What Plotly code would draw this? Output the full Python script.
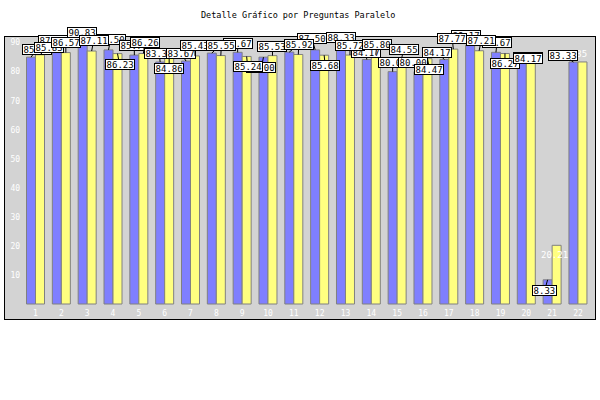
import plotly.graph_objects as go

# ---- data ----
categories = [str(i) for i in range(1, 23)]
blue_values = [85.00, 87.00, 90.83, 87.50, 85.71, 83.33, 83.67, 86.40, 86.67, 85.00, 86.75,
               87.50, 88.33, 84.17, 80.00, 80.00, 84.17, 89.17, 86.67, 83.00, 8.33, 83.33]
yellow_values = [85.83, 86.57, 87.11, 86.23, 86.26, 84.86, 85.43, 85.55, 85.24, 85.53, 85.92,
                 85.68, 85.72, 85.80, 84.55, 84.47, 87.77, 87.21, 86.27, 84.17, 20.21, 83.35]
y_tick_values = [10, 20, 30, 40, 50, 60, 70, 80, 90]

# ---- label placement (pixel offsets of the label centre from the bar top) ----
blue_dx = [6, -4, -1, 2, 0, -1, -5, 8, 0, -2, 10, -3, 0, -1, 0, -5, -7, -4, 1, 6, -3, -10.5]
blue_dy = [-8, -11, -7.5, -10, -10, -9, -8, -7.5, -9, 10, -8, -11, -9.5, -7, -9, -9, -7.5, -10, -9.5, -5, 10.5, -7]
yellow_dx = [8.5, 0, 2, 2, 2, 0, 0, 0.5, 1, 0, 0.5, 1, 0, 1, 2, 2, -1, 2, 0, -3, -2.5, -9]
yellow_dy = [-7.5, -10.5, -10.5, 10.5, -11, 11, -10.5, -10, 10.5, -9.5, -10, 10, -10, -10, -9, 10.5, -10.5, -10, 10.5, -1.5, 10, -8]
yellow_style = ["box"] * 20 + ["white", "white"]

BLUE = "#7f7fff"
YELLOW = "#ffff80"
EDGE = "#808080"
FONT = "DejaVu Sans Mono"

x_pos = list(range(1, len(categories) + 1))
bargap = 0.303
bar_off = (1 - bargap) / 4.0

fig = go.Figure()
fig.add_trace(go.Bar(x=x_pos, y=blue_values, marker=dict(color=BLUE, line=dict(color=EDGE, width=1)),
                     hoverinfo="skip", showlegend=False))
fig.add_trace(go.Bar(x=x_pos, y=yellow_values, marker=dict(color=YELLOW, line=dict(color=EDGE, width=1)),
                     hoverinfo="skip", showlegend=False))

def fmt(v):
    return f"{v:.2f}"

annotations = []
# white text labels first (drawn underneath the boxes)
for i, v in enumerate(yellow_values):
    if yellow_style[i] == "white":
        annotations.append(dict(x=x_pos[i] + bar_off, y=v, xref="x", yref="y", text=fmt(v),
                                showarrow=False, xshift=yellow_dx[i], yshift=-yellow_dy[i],
                                font=dict(family=FONT, size=9, color="white")))

def box_label(xv, v, dx, dy):
    txt = fmt(v)
    return dict(x=xv, y=v, xref="x", yref="y", text=txt, showarrow=True,
                ax=dx, ay=dy, axref="pixel", ayref="pixel",
                arrowhead=0, arrowwidth=1, arrowcolor="black", standoff=0, startstandoff=0,
                bgcolor="white", bordercolor="black", borderwidth=1, borderpad=0,
                width=5.45 * len(txt) + 1, height=9,
                font=dict(family=FONT, size=9, color="black"))

for i, v in enumerate(blue_values):
    annotations.append(box_label(x_pos[i] - bar_off, v, blue_dx[i], blue_dy[i]))
for i, v in enumerate(yellow_values):
    if yellow_style[i] == "box":
        annotations.append(box_label(x_pos[i] + bar_off, v, yellow_dx[i], yellow_dy[i]))

fig.update_layout(
    width=600, height=400,
    margin=dict(l=5, r=5, t=37, b=81, pad=0),
    paper_bgcolor="white", plot_bgcolor="#d3d3d3",
    barmode="group", bargap=bargap, bargroupgap=0,
    title=dict(text="Detalle Gráfico por Preguntas Paralelo", x=0.497, xanchor="center",
               xref="paper", y=1 - 15.5 / 400, yref="container", yanchor="middle",
               font=dict(family=FONT, size=8.5, color="black")),
    xaxis=dict(range=[-0.181, 22.66], tickvals=x_pos, ticktext=categories,
               ticklabelposition="inside", ticks="", tickfont=dict(family=FONT, size=8, color="white"),
               showgrid=False, zeroline=False, showline=True, linecolor="black", linewidth=1, mirror=True,
               fixedrange=True),
    yaxis=dict(range=[-5.165, 91.94], tickvals=y_tick_values, ticklabelposition="inside", ticks="",
               ticklabelstandoff=4,
               tickfont=dict(family=FONT, size=8, color="white"),
               showgrid=False, zeroline=False, showline=True, linecolor="black", linewidth=1, mirror=True,
               fixedrange=True),
    annotations=annotations,
)

fig.write_html("out.html", config={"displayModeBar": False},
               post_script="document.body.style.margin='0px';document.body.style.overflow='hidden';")
